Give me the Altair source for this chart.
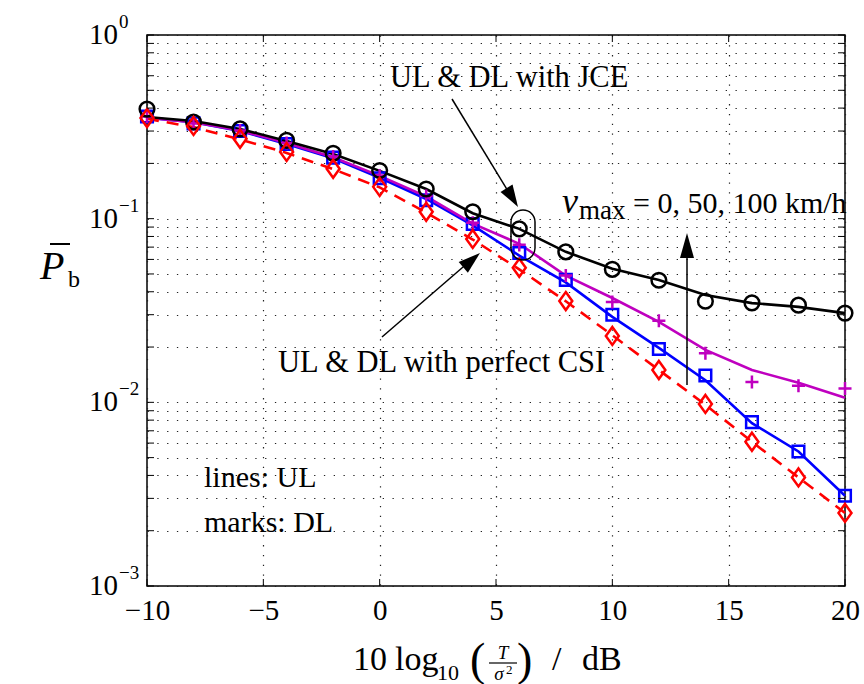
import altair as alt
import pandas as pd

# ---------------- data ----------------
snr = [-10, -8, -6, -4, -2, 0, 2, 4, 6, 8, 10, 12, 14, 16, 18, 20]

# UL (lines)
ul_perfect = [0.350, 0.315, 0.270, 0.228, 0.186, 0.148, 0.108, 0.077, 0.053, 0.0355,
              0.0232, 0.0150, 0.0097, 0.0061, 0.0039, 0.0025]
ul_v0 = [0.355, 0.335, 0.300, 0.255, 0.213, 0.167, 0.128, 0.092, 0.063, 0.045,
         0.0292, 0.0198, 0.0132, 0.0077, 0.0054, 0.0031]
ul_v50 = [0.355, 0.335, 0.302, 0.258, 0.216, 0.171, 0.132, 0.094, 0.073, 0.049,
          0.037, 0.0274, 0.0193, 0.0150, 0.0128, 0.0106]
ul_v100 = [0.358, 0.340, 0.308, 0.265, 0.225, 0.182, 0.145, 0.107, 0.088, 0.066,
           0.0534, 0.0464, 0.0384, 0.0347, 0.0331, 0.0306]

# DL (marks)
dl_perfect = [0.353, 0.320, 0.272, 0.231, 0.187, 0.149, 0.109, 0.0776, 0.054, 0.0356,
              0.0230, 0.0150, 0.0098, 0.0061, 0.0039, 0.0025]
dl_v0 = [0.360, 0.330, 0.300, 0.255, 0.215, 0.166, 0.126, 0.0936, 0.065, 0.0464,
         0.0300, 0.0195, 0.0140, 0.0078, 0.0054, 0.0031]
dl_v50 = [0.360, 0.330, 0.302, 0.258, 0.218, 0.172, 0.133, 0.095, 0.072, 0.049,
          0.0352, 0.0278, 0.0185, 0.0129, 0.0123, 0.0119]
dl_v100 = [0.395, 0.336, 0.308, 0.267, 0.227, 0.183, 0.145, 0.109, 0.088, 0.066,
           0.053, 0.0462, 0.0355, 0.0348, 0.0338, 0.0306]

x_ticks = [-10, -5, 0, 5, 10, 15, 20]
y_decades = [1.0, 0.1, 0.01, 0.001]
y_exponents = ["0", "\u22121", "\u22122", "\u22123"]
y_ticks = [m * d for d in [0.001, 0.01, 0.1] for m in range(1, 10)] + [1.0]

# ---------------- layout ----------------
L, T, W, H = 147, 35, 698, 551
SERIF = "Liberation Serif"
RED, BLUE, MAG, BLK = "#FF0000", "#0000FF", "#BF00BF", "#000000"

xscale = alt.Scale(domain=[-10, 20], nice=False)
yscale = alt.Scale(type="log", domain=[0.001, 1], nice=False)
one = alt.Data(values=[{"k": 0}])

AX = alt.Axis(values=x_ticks, grid=True, ticks=False, domain=False,
              labelFont=SERIF, labelFontSize=29, labelColor="black",
              labelPadding=10, labelFlush=False, title=None,
              labelExpr="replace(datum.label, '-', '\u2212')",
              gridColor="#222", gridDash=[1.3, 8.5], gridWidth=1.2)
AY = alt.Axis(values=y_ticks, grid=True, ticks=False, domain=False,
              labels=False, title=None,
              gridColor="#222", gridDash=[1.3, 8.5], gridWidth=1.2)


def X():
    return alt.X("snr:Q", scale=xscale, axis=AX)


def Y():
    return alt.Y("P:Q", scale=yscale, axis=AY)


def df(vals):
    return pd.DataFrame({"snr": snr, "P": vals})


def line(vals, color, dash=None):
    kw = dict(color=color, strokeWidth=2.6)
    if dash:
        kw["strokeDash"] = dash
    return alt.Chart(df(vals)).mark_line(**kw).encode(x=X(), y=Y())


def marks(vals, color, shape, size):
    return alt.Chart(df(vals)).mark_point(shape=shape, size=size, filled=False,
                                          color=color, strokeWidth=2.5, opacity=1).encode(
        x=X(), y=Y())


PLUS = "M-1,0H1M0,-1V1"
DIAMOND = "M0,-1L0.72,0L0,1L-0.72,0Z"

layers = [line(ul_v0, BLUE), line(ul_v50, MAG), line(ul_v100, BLK),
          line(ul_perfect, RED, [12, 8]),
          marks(dl_v0, BLUE, "square", 135),
          marks(dl_v50, MAG, PLUS, 170),
          marks(dl_v100, BLK, "circle", 215),
          marks(dl_perfect, RED, DIAMOND, 324)]

# inward ticks
ytdf = pd.DataFrame({"P": y_ticks})
xtdf = pd.DataFrame({"snr": x_ticks})
for a, b in [(0, 7), (W - 7, W)]:
    layers.append(alt.Chart(ytdf).mark_rule(color="black", strokeWidth=1).encode(
        y=Y(), x=alt.value(a), x2=alt.value(b)))
for a, b in [(0, 7), (H - 7, H)]:
    layers.append(alt.Chart(xtdf).mark_rule(color="black", strokeWidth=1).encode(
        x=X(), y=alt.value(a), y2=alt.value(b)))

# y tick labels 10^k
ylab = pd.DataFrame({"P": y_decades, "e": y_exponents})
layers.append(alt.Chart(ylab).mark_text(text="10", align="right", baseline="middle",
                                        font=SERIF, fontSize=29, color="black").encode(
    y=Y(), x=alt.value(-29)))
layers.append(alt.Chart(ylab).mark_text(align="left", baseline="middle", dy=-13,
                                        font=SERIF, fontSize=19, color="black").encode(
    y=Y(), x=alt.value(-28), text="e:N"))


def txt(text, px, py, size, style="normal", align="left", baseline="alphabetic"):
    return alt.Chart(one).mark_text(text=text, align=align, baseline=baseline, font=SERIF,
                                    fontSize=size, fontStyle=style, color="black").encode(
        x=alt.value(px - L), y=alt.value(py - T))


def seg(x1, y1, x2, y2, w=1.5):
    return alt.Chart(one).mark_rule(color="black", strokeWidth=w).encode(
        x=alt.value(x1 - L), y=alt.value(y1 - T), x2=alt.value(x2 - L), y2=alt.value(y2 - T))


def head(px, py, angle, path, size):
    return alt.Chart(one).mark_point(shape=path, size=size, filled=True, color="black",
                                     opacity=1, angle=angle).encode(
        x=alt.value(px - L), y=alt.value(py - T))


STADIUM = "M-0.48,-0.52A0.48,0.48 0 0 1 0.48,-0.52L0.48,0.52A0.48,0.48 0 0 1 -0.48,0.52Z"
HEAD1 = "M0,0L-0.32,1L0.32,1Z"
HEAD2 = "M0,0L-0.28,1L0.28,1Z"

layers += [
    # annotations
    txt("UL & DL with JCE", 390, 87, 30.5),
    seg(452, 99, 511, 196),
    head(518, 207, 148.6, HEAD1, 1936),
    alt.Chart(one).mark_point(shape=STADIUM, size=2500, filled=False, color="black",
                              strokeWidth=1.5, opacity=1).encode(
        x=alt.value(523 - L), y=alt.value(235 - T)),
    txt("UL & DL with perfect CSI", 278, 372, 30.5),
    seg(382, 337, 470, 261),
    head(480, 253, 49.4, HEAD1, 1936),
    seg(687, 385, 687, 255),
    head(687, 233, 0, HEAD2, 2500),
    txt("v", 562, 213, 36, style="italic"),
    txt("max", 579, 219, 27),
    txt("= 0, 50, 100 km/h", 633, 213, 30),
    txt("lines: UL", 204, 487, 30),
    txt("marks: DL", 204, 532, 30),
    # y title  P-bar_b
    txt("P", 40, 279, 40, style="italic"),
    seg(50, 244, 70, 244, 2),
    txt("b", 68, 287, 24),
    # x title  10 log10 (T / sigma^2) / dB
    txt("10", 353, 670, 34),
    txt("log", 395, 670, 34),
    txt("10", 437, 680, 22),
    txt("(", 470, 675, 46),
    txt("T", 503, 659, 19, style="italic", align="center"),
    seg(489, 663, 517, 663, 1.2),
    txt("\u03c3", 499, 680, 19, style="italic", align="center"),
    txt("2", 506, 674, 13),
    txt(")", 517, 675, 46),
    txt("/", 552, 670, 34),
    txt("dB", 582, 670, 34),
]

chart = alt.layer(*layers).properties(
    width=W, height=H,
    autosize=alt.AutoSizeParams(type="none"),
    padding={"left": L, "top": T, "right": 864 - L - W, "bottom": 684 - T - H},
    background="white",
).configure_view(stroke="black", strokeWidth=1.5)

chart.save("out.html", embed_options={"renderer": "svg", "actions": False})
